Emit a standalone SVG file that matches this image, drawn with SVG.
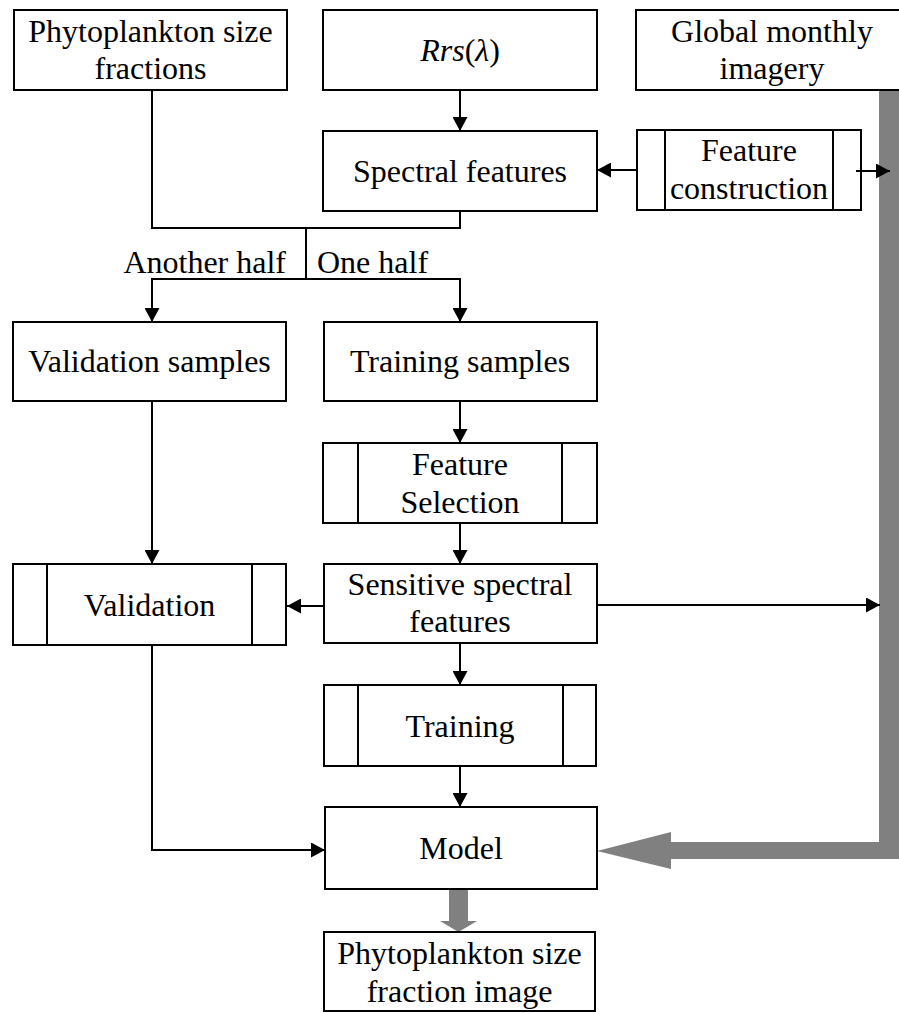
<svg xmlns="http://www.w3.org/2000/svg" width="899" height="1013" viewBox="0 0 899 1013">
<style>
  .box { fill: #ffffff; stroke: #000000; stroke-width: 2; }
  .inner { stroke: #000000; stroke-width: 2; fill: none; }
  .lbl { font-family: "Liberation Serif", "Times New Roman", serif; font-size: 32px; fill: #000000; text-anchor: middle; }
  .conn { fill: none; stroke: #000000; stroke-width: 2; }
  .gray { fill: #808080; stroke: none; }
</style>
<defs>
  <marker id="arr" markerUnits="userSpaceOnUse" markerWidth="15" markerHeight="15" refX="14" refY="7.5" orient="auto">
    <path d="M0,0 L14,7.5 L0,15 z" fill="#000000"/>
  </marker>
</defs>
<rect width="899" height="1013" fill="#ffffff"/>

<g id="gray-arrows">
  <path class="gray" d="M879,89 H905 V859 H671 V869 L597,851 L671,832 V842 H879 Z"/>
  <path class="gray" d="M449,889 H468 V921 H477 L458.5,932 L440,921 H449 Z"/>
</g>

<g id="node-phyto">
  <rect class="box" x="14" y="10" width="273" height="80"/>
  <text class="lbl" x="150.5" y="42">Phytoplankton size</text>
  <text class="lbl" x="150.5" y="79">fractions</text>
</g>
<g id="node-rrs">
  <rect class="box" x="323" y="10" width="274" height="80"/>
  <text class="lbl" x="460" y="61"><tspan font-style="italic">Rrs</tspan>(<tspan font-style="italic">λ</tspan>)</text>
</g>
<g id="node-global">
  <rect class="box" x="636" y="10" width="280" height="80"/>
  <text class="lbl" x="772" y="42">Global monthly</text>
  <text class="lbl" x="772" y="79">imagery</text>
</g>
<g id="node-spectral">
  <rect class="box" x="323" y="131" width="274" height="80"/>
  <text class="lbl" x="460" y="182">Spectral features</text>
</g>
<g id="node-featconstr">
  <rect class="box" x="637" y="130" width="224" height="80"/>
  <line class="inner" x1="665" y1="130" x2="665" y2="210"/>
  <line class="inner" x1="833" y1="130" x2="833" y2="210"/>
  <text class="lbl" x="749" y="161">Feature</text>
  <text class="lbl" x="749" y="199">construction</text>
</g>
<g id="node-valsamples">
  <rect class="box" x="13" y="322" width="273" height="79"/>
  <text class="lbl" x="149.5" y="372">Validation samples</text>
</g>
<g id="node-trainsamples">
  <rect class="box" x="324" y="322" width="273" height="79"/>
  <text class="lbl" x="460" y="372">Training samples</text>
</g>
<g id="node-featsel">
  <rect class="box" x="323" y="443" width="274" height="80"/>
  <line class="inner" x1="358" y1="443" x2="358" y2="523"/>
  <line class="inner" x1="562" y1="443" x2="562" y2="523"/>
  <text class="lbl" x="460" y="475">Feature</text>
  <text class="lbl" x="460" y="513">Selection</text>
</g>
<g id="node-validation">
  <rect class="box" x="13" y="564" width="273" height="81"/>
  <line class="inner" x1="47" y1="564" x2="47" y2="645"/>
  <line class="inner" x1="252" y1="564" x2="252" y2="645"/>
  <text class="lbl" x="149.5" y="616">Validation</text>
</g>
<g id="node-sensitive">
  <rect class="box" x="324" y="564" width="273" height="79"/>
  <text class="lbl" x="460" y="595">Sensitive spectral</text>
  <text class="lbl" x="460" y="632">features</text>
</g>
<g id="node-training">
  <rect class="box" x="324" y="685" width="272" height="81"/>
  <line class="inner" x1="358" y1="685" x2="358" y2="766"/>
  <line class="inner" x1="563" y1="685" x2="563" y2="766"/>
  <text class="lbl" x="460" y="737">Training</text>
</g>
<g id="node-model">
  <rect class="box" x="325" y="807" width="272" height="82"/>
  <text class="lbl" x="461" y="859">Model</text>
</g>
<g id="node-final">
  <rect class="box" x="324" y="932" width="271" height="79"/>
  <text class="lbl" x="459.5" y="964">Phytoplankton size</text>
  <text class="lbl" x="459.5" y="1002">fraction image</text>
</g>

<g id="connectors">
  <path class="conn" d="M460,90 V131" marker-end="url(#arr)"/>
  <path class="conn" d="M637,170 H597" marker-end="url(#arr)"/>
  <path class="conn" d="M856,171 H890" marker-end="url(#arr)"/>
  <path class="conn" d="M152,90 V228 H460 V211"/>
  <path class="conn" d="M306,228 V279"/>
  <path class="conn" d="M306,279 H152 V322" marker-end="url(#arr)"/>
  <path class="conn" d="M306,279 H460 V322" marker-end="url(#arr)"/>
  <path class="conn" d="M460,401 V443" marker-end="url(#arr)"/>
  <path class="conn" d="M460,523 V564" marker-end="url(#arr)"/>
  <path class="conn" d="M152,401 V564" marker-end="url(#arr)"/>
  <path class="conn" d="M324,606 H287" marker-end="url(#arr)"/>
  <path class="conn" d="M597,605 H880" marker-end="url(#arr)"/>
  <path class="conn" d="M460,643 V685" marker-end="url(#arr)"/>
  <path class="conn" d="M460,766 V807" marker-end="url(#arr)"/>
  <path class="conn" d="M152,645 V850 H325" marker-end="url(#arr)"/>
  <text class="lbl" x="286" y="273" style="text-anchor:end">Another half</text>
  <text class="lbl" x="317" y="273" style="text-anchor:start">One half</text>
</g>
</svg>
